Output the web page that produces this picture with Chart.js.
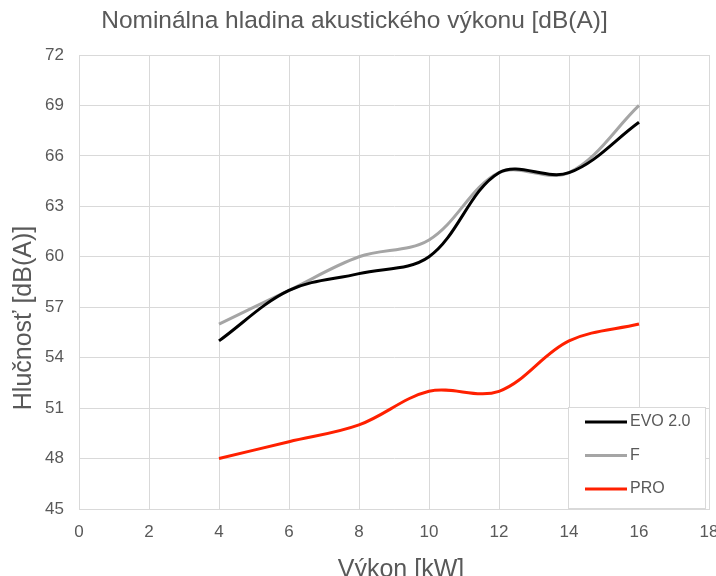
<!DOCTYPE html>
<html>
<head>
<meta charset="utf-8">
<script src="https://cdn.jsdelivr.net/npm/chart.js@4.4.1/dist/chart.umd.min.js"></script>
<style>
    html, body { margin: 0; padding: 0; background: #fff; }
    #wrap { width: 716px; height: 576px; }
</style>
</head>
<body>
<div id="wrap"><canvas id="chart01" width="716" height="576"></canvas></div>
<script>
// vykon [kW] a hlucnost [dB(A)]
const vykon = [4, 6, 8, 10, 12, 14, 16];
const evo = [55, 58, 59, 60, 65, 65, 68];
const f = [56, 58, 60, 61, 65, 65, 69];
const pro = [48, 49, 50, 52, 52, 55, 56];
const seriesNames = ['EVO 2.0', 'F', 'PRO'];
const seriesColors = ['#000000', '#a5a5a5', '#ff2000'];

const sans = '"Liberation Sans", Arial, sans-serif';
const txtColor = '#595959';

function toPoints(ys) {
    return vykon.map((x, i) => ({ x: x, y: ys[i] }));
}

// nazvy osi - kreslene rucne, aby sedeli na pozicii
const axisTitles = {
    id: 'axisTitles',
    afterDraw(chart) {
        const c = chart.ctx;
        c.save();
        c.font = '25px ' + sans;
        c.fillStyle = txtColor;
        c.textAlign = 'center';
        c.textBaseline = 'alphabetic';
        c.fillText('Výkon [kW]', 401, 577);
        c.translate(31, 318);
        c.rotate(-Math.PI / 2);
        c.fillText('Hlučnosť [dB(A)]', 0, 0);
        c.restore();
    }
};

// legenda v pravom dolnom rohu
const boxLegend = {
    id: 'boxLegend',
    afterDraw(chart) {
        const c = chart.ctx;
        const x0 = 568, y0 = 407, w = 137, h = 101;
        c.save();
        c.fillStyle = '#ffffff';
        c.fillRect(x0, y0, w, h);
        c.strokeStyle = '#d9d9d9';
        c.lineWidth = 1;
        c.strokeRect(x0 + 0.5, y0 + 0.5, w, h);
        c.font = '16px ' + sans;
        c.textBaseline = 'middle';
        chart.data.datasets.forEach((ds, i) => {
            const y = 422 + i * 33.5;
            c.strokeStyle = ds.borderColor;
            c.lineWidth = 3;
            c.beginPath();
            c.moveTo(585, y);
            c.lineTo(627, y);
            c.stroke();
            c.fillStyle = txtColor;
            c.fillText(ds.label, 630, y);
        });
        c.restore();
    }
};

const chart = new Chart(document.getElementById('chart01'), {
    type: 'line',
    data: {
        datasets: [
            { label: seriesNames[0], data: toPoints(evo), borderColor: seriesColors[0] },
            { label: seriesNames[1], data: toPoints(f), borderColor: seriesColors[1] },
            { label: seriesNames[2], data: toPoints(pro), borderColor: seriesColors[2] }
        ]
    },
    options: {
        responsive: false,
        animation: false,
        layout: { padding: { left: 0, right: 7, top: 0, bottom: 0 } },
        elements: {
            line: { borderWidth: 3, tension: 0.35, fill: false },
            point: { radius: 0 }
        },
        plugins: {
            legend: { display: false },
            tooltip: { enabled: false },
            title: {
                display: true,
                text: 'Nominálna hladina akustického výkonu [dB(A)]',
                color: txtColor,
                font: { family: sans, size: 24.5, weight: 'normal' },
                padding: { top: 7, bottom: 18.6 }
            }
        },
        scales: {
            x: {
                type: 'linear',
                min: 0,
                max: 18,
                afterFit: (s) => {
                    s.height = 67;
                    s.paddingLeft = 0;
                    s.paddingRight = 0;
                },
                grid: { color: '#d9d9d9', drawTicks: false },
                border: { color: '#d9d9d9' },
                ticks: {
                    stepSize: 2,
                    padding: 13,
                    color: txtColor,
                    font: { family: sans, size: 17 }
                }
            },
            y: {
                min: 45,
                max: 72,
                afterFit: (s) => { s.width = 79; },
                grid: { color: '#d9d9d9', drawTicks: false },
                border: { color: '#d9d9d9' },
                ticks: {
                    stepSize: 3,
                    padding: 15,
                    color: txtColor,
                    font: { family: sans, size: 17 }
                }
            }
        }
    },
    plugins: [axisTitles, boxLegend]
});
</script>
</body>
</html>
